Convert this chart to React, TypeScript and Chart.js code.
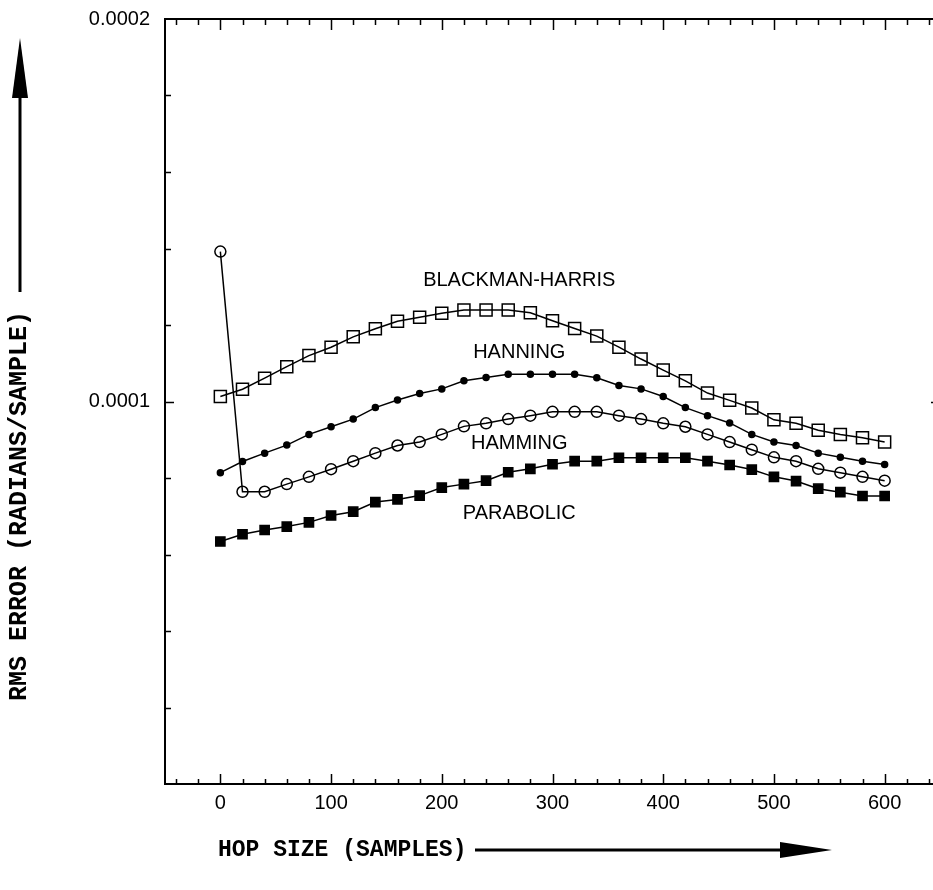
import React, { useEffect, useRef } from "react";
import { Chart, registerables } from "chart.js";

Chart.register(...registerables);

// ---- data ----
const hopSizes = [0, 20, 40, 60, 80, 100, 120, 140, 160, 180, 200, 220, 240, 260, 280, 300, 320, 340, 360, 380, 400, 420, 440, 460, 480, 500, 520, 540, 560, 580, 600];

const blackmanHarris = [
  0.0001013, 0.0001032, 0.0001061, 0.0001091, 0.000112, 0.0001142, 0.0001169, 0.000119, 0.000121, 0.000122,
  0.0001231, 0.0001239, 0.0001239, 0.0001239, 0.0001232, 0.0001211, 0.0001191, 0.0001171, 0.0001142, 0.0001111,
  0.0001082, 0.0001054, 0.0001022, 0.0001003, 0.0000983, 0.0000952, 0.0000943, 0.0000925, 0.0000914, 0.0000905, 0.0000894,
];

const hanning = [
  0.0000814, 0.0000843, 0.0000865, 0.0000886, 0.0000914, 0.0000934, 0.0000954, 0.0000984, 0.0001004, 0.0001021,
  0.0001033, 0.0001054, 0.0001063, 0.0001071, 0.0001071, 0.0001071, 0.0001071, 0.0001062, 0.0001042, 0.0001033,
  0.0001013, 0.0000984, 0.0000963, 0.0000944, 0.0000914, 0.0000894, 0.0000885, 0.0000865, 0.0000854, 0.0000844, 0.0000835,
];

const hamming = [
  0.0001392, 0.0000764, 0.0000764, 0.0000784, 0.0000803, 0.0000823, 0.0000844, 0.0000865, 0.0000885, 0.0000894,
  0.0000914, 0.0000935, 0.0000943, 0.0000954, 0.0000963, 0.0000973, 0.0000973, 0.0000973, 0.0000963, 0.0000954,
  0.0000943, 0.0000934, 0.0000914, 0.0000894, 0.0000874, 0.0000854, 0.0000844, 0.0000824, 0.0000814, 0.0000803, 0.0000793,
];

const parabolic = [
  0.0000634, 0.0000653, 0.0000664, 0.0000673, 0.0000684, 0.0000702, 0.0000712, 0.0000737, 0.0000744, 0.0000754,
  0.0000775, 0.0000784, 0.0000793, 0.0000815, 0.0000824, 0.0000836, 0.0000844, 0.0000844, 0.0000853, 0.0000853,
  0.0000853, 0.0000853, 0.0000844, 0.0000834, 0.0000822, 0.0000803, 0.0000792, 0.0000772, 0.0000763, 0.0000753, 0.0000753,
];

const seriesNames = ["BLACKMAN-HARRIS", "HANNING", "HAMMING", "PARABOLIC"];
const seriesLabelX = [270, 270, 270, 270];
const seriesLabelY = [0.0001317, 0.0001128, 0.000089, 0.0000708];

const xTickLabels = [0, 100, 200, 300, 400, 500, 600];
const yTickLabels = [0.0001, 0.0002];
const xMinorTicks = [-40, -20, 0, 20, 40, 60, 80, 100, 120, 140, 160, 180, 200, 220, 240, 260, 280, 300, 320, 340, 360, 380, 400, 420, 440, 460, 480, 500, 520, 540, 560, 580, 600, 620, 640];
const yMinorTicks = [0.00002, 0.00004, 0.00006, 0.00008, 0.0001, 0.00012, 0.00014, 0.00016, 0.00018];

const xTitle = "HOP SIZE (SAMPLES)";
const yTitle = "RMS ERROR (RADIANS/SAMPLE)";

const CANVAS_W = 950;
const CANVAS_H = 890;

const framePlugin = {
  id: "framePlugin",
  afterDraw(chart: any) {
    const ctx = chart.ctx;
    const { left, right, top, bottom } = chart.chartArea;
    const xs = chart.scales.x;
    const ys = chart.scales.y;
    ctx.save();
    ctx.strokeStyle = "#000";
    ctx.lineWidth = 2;
    ctx.strokeRect(left, top, right - left, bottom - top);

    // x ticks (bottom, inward and top, inward)
    ctx.lineWidth = 1.5;
    ctx.beginPath();
    for (const v of xMinorTicks) {
      const px = Math.round(xs.getPixelForValue(v)) + 0.5;
      const major = v % 100 === 0;
      const lb = major ? 10 : 5;
      const lt = major ? 11 : 6;
      ctx.moveTo(px, bottom);
      ctx.lineTo(px, bottom - lb);
      ctx.moveTo(px, top);
      ctx.lineTo(px, top + lt);
    }
    for (const v of yMinorTicks) {
      const py = Math.round(ys.getPixelForValue(v)) + 0.5;
      const major = Math.abs(v - 0.0001) < 1e-9;
      const l = major ? 9 : 6;
      ctx.moveTo(left, py);
      ctx.lineTo(left + l, py);
      ctx.moveTo(right, py);
      ctx.lineTo(right - l, py);
    }
    ctx.stroke();

    // series labels
    ctx.fillStyle = "#000";
    ctx.font = '20px "Liberation Sans", Arial, sans-serif';
    ctx.textAlign = "center";
    ctx.textBaseline = "middle";
    seriesNames.forEach((name, i) => {
      ctx.fillText(name, xs.getPixelForValue(seriesLabelX[i]), ys.getPixelForValue(seriesLabelY[i]));
    });

    // x axis title with arrow
    ctx.font = 'bold 23px "Liberation Mono", "Courier New", monospace';
    ctx.textAlign = "left";
    ctx.textBaseline = "middle";
    const xtY = 850;
    ctx.fillText(xTitle, 218, xtY);
    ctx.lineWidth = 3;
    ctx.beginPath();
    ctx.moveTo(475, xtY);
    ctx.lineTo(790, xtY);
    ctx.stroke();
    ctx.beginPath();
    ctx.moveTo(832, xtY);
    ctx.lineTo(780, xtY - 8);
    ctx.lineTo(780, xtY + 8);
    ctx.closePath();
    ctx.fill();

    // y title rotated with arrow
    const ytX = 20;
    ctx.save();
    ctx.font = 'bold 25px "Liberation Mono", "Courier New", monospace';
    ctx.translate(ytX, 506);
    ctx.rotate(-Math.PI / 2);
    ctx.textAlign = "center";
    ctx.fillText(yTitle, 0, 0);
    ctx.restore();
    ctx.beginPath();
    ctx.moveTo(ytX, 292);
    ctx.lineTo(ytX, 90);
    ctx.stroke();
    ctx.beginPath();
    ctx.moveTo(ytX, 38);
    ctx.lineTo(ytX - 8, 98);
    ctx.lineTo(ytX + 8, 98);
    ctx.closePath();
    ctx.fill();
    ctx.restore();
  },
};

export default function App() {
  const canvasRef = useRef<HTMLCanvasElement | null>(null);

  useEffect(() => {
    document.body.style.margin = "0";
    document.body.style.overflow = "hidden";
    const canvas = canvasRef.current;
    if (!canvas) return;
    const mk = (label: string, data: number[], style: string, radius: number, filled: boolean) => ({
      label,
      data: hopSizes.map((x, i) => ({ x, y: data[i] })),
      borderColor: "#000",
      borderWidth: 1.5,
      pointStyle: style,
      pointRadius: radius,
      pointBorderWidth: 1.5,
      pointBorderColor: "#000",
      pointBackgroundColor: filled ? "#000" : "rgba(0,0,0,0)",
      showLine: true,
      tension: 0,
      fill: false,
    });
    const chart = new Chart(canvas, {
      type: "scatter",
      data: {
        datasets: [
          mk(seriesNames[0], blackmanHarris, "rect", 8.5, false),
          mk(seriesNames[1], hanning, "circle", 3, true),
          mk(seriesNames[2], hamming, "circle", 5.5, false),
          mk(seriesNames[3], parabolic, "rect", 6.5, true),
        ],
      },
      options: {
        responsive: false,
        animation: false,
        layout: { padding: { top: 19, right: CANVAS_W - 941, left: 0, bottom: 0 } },
        plugins: { legend: { display: false }, tooltip: { enabled: false } },
        scales: {
          x: {
            type: "linear",
            min: -50,
            max: 650,
            grid: { display: false, drawTicks: false },
            border: { display: false },
            afterBuildTicks: (scale: any) => {
              scale.ticks = xTickLabels.map((v) => ({ value: v }));
            },
            afterFit: (scale: any) => {
              scale.height = CANVAS_H - 784;
              scale.paddingLeft = 0;
              scale.paddingRight = 0;
            },
            ticks: {
              padding: 7,
              color: "#000",
              font: { family: '"Liberation Sans", Arial, sans-serif', size: 20 },
              maxRotation: 0,
              callback: (v: any) => String(v),
            },
          },
          y: {
            type: "linear",
            min: 0,
            max: 0.0002,
            grid: { display: false, drawTicks: false },
            border: { display: false },
            afterBuildTicks: (scale: any) => {
              scale.ticks = yTickLabels.map((v) => ({ value: v }));
            },
            afterFit: (scale: any) => {
              scale.width = 165;
              scale.paddingTop = 0;
              scale.paddingBottom = 0;
            },
            ticks: {
              padding: 15,
              color: "#000",
              font: { family: '"Liberation Sans", Arial, sans-serif', size: 20 },
              callback: (v: any) => Number(v).toFixed(4),
            },
          },
        },
      },
      plugins: [framePlugin],
    } as any);
    return () => chart.destroy();
  }, []);

  return (
    <div style={{ position: "absolute", left: 0, top: 0, width: 933, height: 890, overflow: "hidden", background: "#fff" }}>
      <canvas ref={canvasRef} width={CANVAS_W} height={CANVAS_H} style={{ width: CANVAS_W, height: CANVAS_H, display: "block" }} />
    </div>
  );
}
